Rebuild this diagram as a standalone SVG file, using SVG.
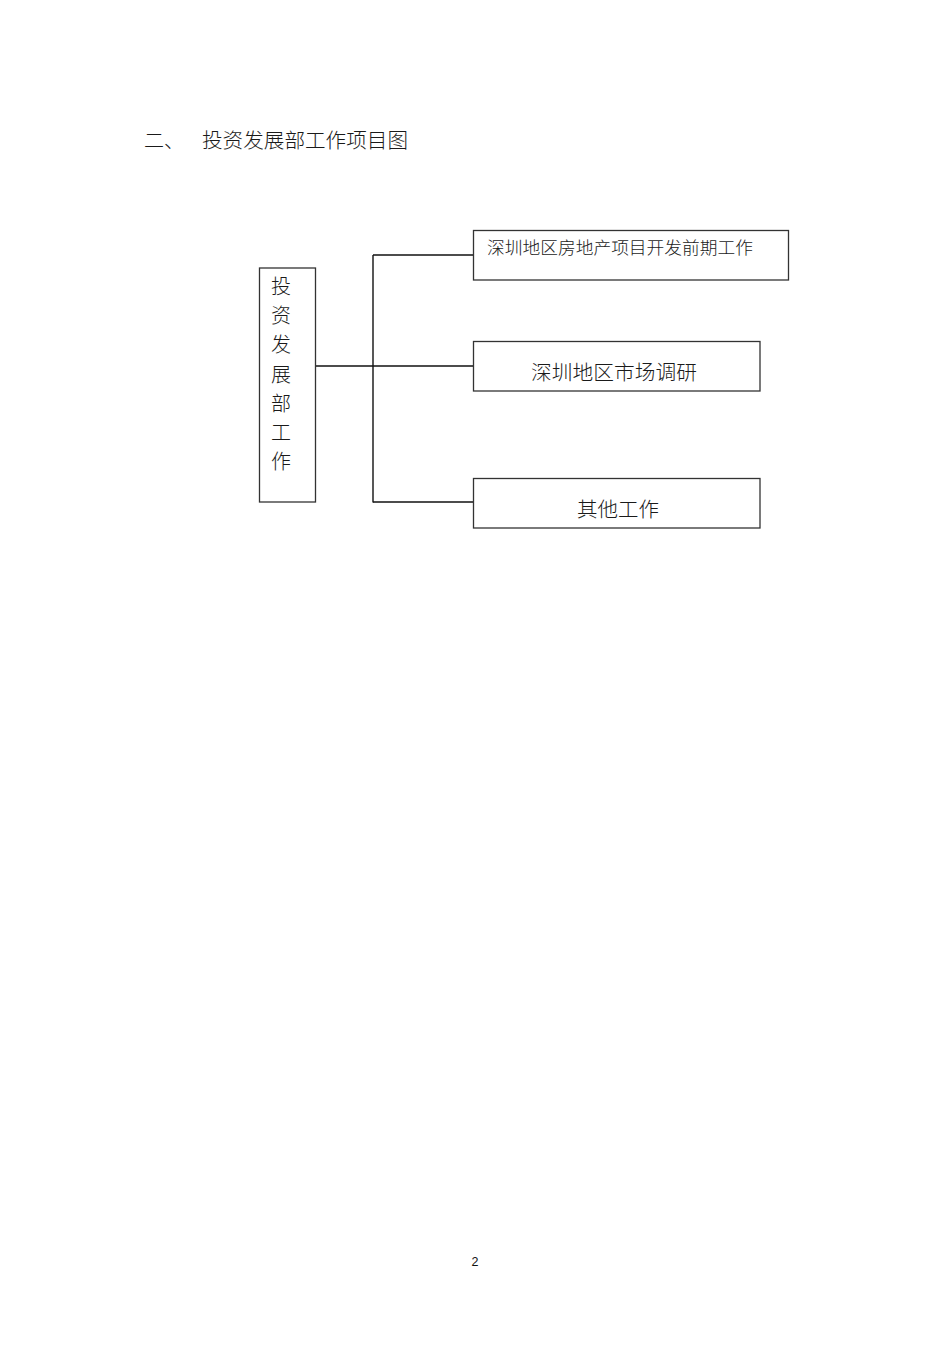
<svg xmlns="http://www.w3.org/2000/svg" width="950" height="1345" viewBox="0 0 950 1345">
<style>
.t{font-family:"Noto Sans CJK SC","Liberation Sans",sans-serif;fill:#1a1a1a;font-weight:300;}
.box{fill:#fff;stroke:#333;stroke-width:1.3;}
.ln{stroke:#111;stroke-width:1.4;fill:none;}
</style>
<rect width="950" height="1345" fill="#fff"/>
<text class="t" x="144" y="148" font-size="20">二、</text>
<text class="t" x="202" y="148" font-size="20.5" textLength="206" lengthAdjust="spacingAndGlyphs">投资发展部工作项目图</text>
<g id="connectors">
<line class="ln" x1="373" y1="255" x2="373" y2="502.5" stroke-width="1.8"/>
<line class="ln" x1="373" y1="255" x2="473" y2="255"/>
<line class="ln" x1="316" y1="366" x2="473" y2="366" stroke-width="2.4"/>
<line class="ln" x1="373" y1="502" x2="473" y2="502"/>
</g>
<g id="root">
<rect class="box" x="259.5" y="268" width="56" height="234"/>
<text class="t" x="281" font-size="20" text-anchor="middle"><tspan x="281" y="294">投</tspan><tspan x="281" y="323">资</tspan><tspan x="281" y="352">发</tspan><tspan x="281" y="382">展</tspan><tspan x="281" y="411">部</tspan><tspan x="281" y="440">工</tspan><tspan x="281" y="469">作</tspan></text>
</g>
<g id="n1">
<rect class="box" x="473.5" y="230.5" width="315" height="49.5"/>
<text class="t" x="487" y="254" font-size="17.5" textLength="266" lengthAdjust="spacingAndGlyphs">深圳地区房地产项目开发前期工作</text>
</g>
<g id="n2">
<rect class="box" x="473.5" y="341.5" width="286.5" height="49.5"/>
<text class="t" x="531" y="380" font-size="20.5" textLength="166" lengthAdjust="spacingAndGlyphs">深圳地区市场调研</text>
</g>
<g id="n3">
<rect class="box" x="473.5" y="478.5" width="286.5" height="49.5"/>
<text class="t" x="577" y="517" font-size="20.5" textLength="82" lengthAdjust="spacingAndGlyphs">其他工作</text>
</g>
<text x="475" y="1266" font-family="Liberation Sans, sans-serif" font-size="12.5" text-anchor="middle" fill="#111">2</text>
</svg>
